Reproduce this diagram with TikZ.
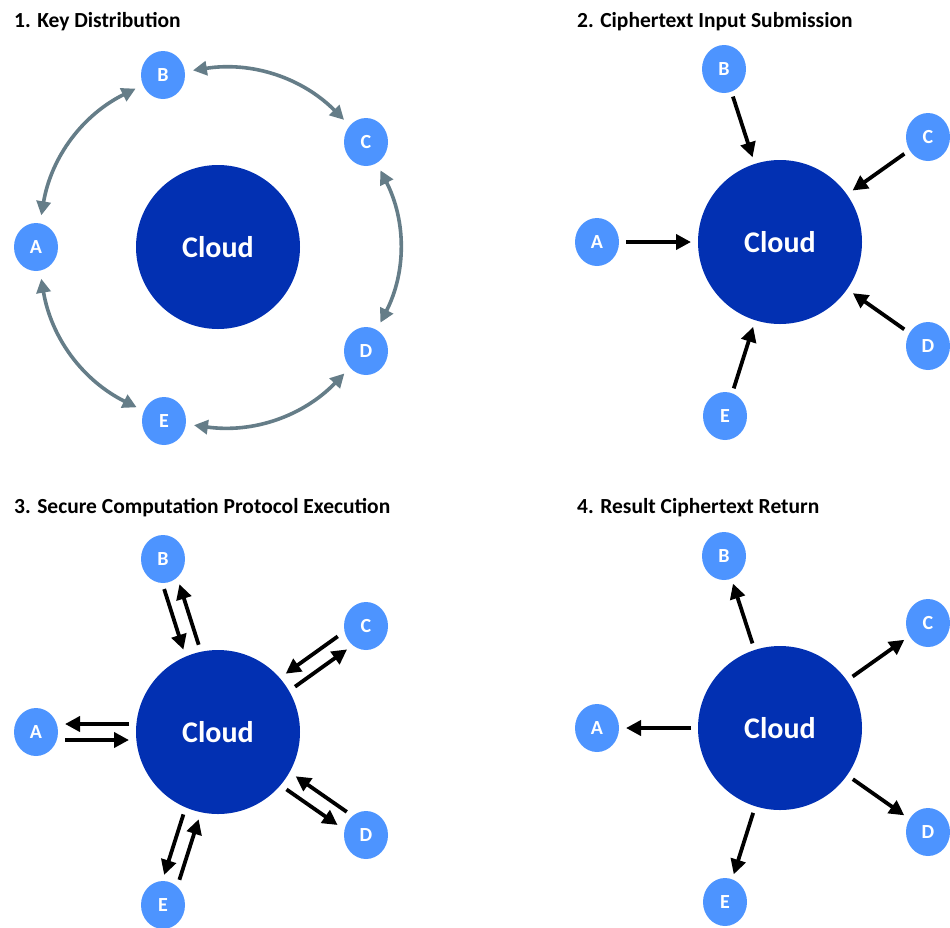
\documentclass[tikz,border=0pt]{standalone}
\usepackage{fontspec}
\setmainfont{Carlito}
\usepackage{tikz}
\usetikzlibrary{calc}
\usetikzlibrary{arrows.meta}
\usetikzlibrary{shapes.geometric}
\definecolor{cloudblue}{RGB}{2, 48, 178}
\definecolor{partyblue}{RGB}{77, 148, 255}
\definecolor{keygray}{RGB}{101, 125, 136}
\tikzstyle{cloud} = [circle, fill = cloudblue, draw = none, minimum size = 164pt, inner sep = 0, text = white, font = \fontsize{30}{32}\selectfont\bfseries]
\tikzstyle{party} = [ellipse, fill = partyblue, draw = none, minimum width = 44pt, minimum height = 48pt, inner sep = 0, text = white, font = \fontsize{20}{22}\selectfont\bfseries]
\tikzstyle{title} = [anchor = base west, inner sep = 0, font = \fontsize{21.5}{25}\selectfont\bfseries]
\tikzstyle{keyarc} = [{Triangle[length = 14pt, width = 14pt]}-{Triangle[length = 14pt, width = 14pt]}, draw = keygray, line width = 3.6pt, shorten < = 8pt, shorten > = 8pt]
\tikzstyle{flow} = [-{Triangle[length = 15pt, width = 15pt]}, draw = black, line width = 3.8pt]
\tikzstyle{tocloud} = [flow, shorten < = 29pt, shorten > = 89pt]
\tikzstyle{fromcloud} = [flow, shorten < = 89pt, shorten > = 29pt]

\begin{document}
\begin{tikzpicture}[x = 1pt, y = 1pt]
\useasboundingbox (0, 0) rectangle (950, -927);

% 1. key distribution
\node [title] (T1) at (14, -27) {1. Key Distribution};
\node [cloud] (K1) at (218, -247) {Cloud};
\node [party] (A1) at (36, -247) {A};
\node [party] (B1) at (163, -75) {B};
\node [party] (C1) at (366, -142) {C};
\node [party] (D1) at (366, -351) {D};
\node [party] (E1) at (164, -421) {E};
\draw [keyarc] (A1) to [bend left = 27] (B1);
\draw [keyarc] (B1) to [bend left = 27] (C1);
\draw [keyarc] (C1) to [bend left = 27] (D1);
\draw [keyarc] (D1) to [bend left = 27] (E1);
\draw [keyarc] (E1) to [bend left = 27] (A1);

% 2. ciphertext input
\node [title] (T2) at (577, -27) {2. Ciphertext Input Submission};
\node [cloud] (K2) at (780, -242) {Cloud};
\node [party] (A2) at (597, -242) {A};
\node [party] (B2) at (724, -69) {B};
\node [party] (C2) at (928, -137) {C};
\node [party] (D2) at (928, -346) {D};
\node [party] (E2) at (725, -416) {E};
\draw [tocloud] (A2.center) -- (K2.center);
\draw [tocloud] (B2.center) -- (K2.center);
\draw [tocloud] (C2.center) -- (K2.center);
\draw [tocloud] (D2.center) -- (K2.center);
\draw [tocloud] (E2.center) -- (K2.center);

% 3. protocol execution, both ways
\node [title] (T3) at (14, -513) {3. Secure Computation Protocol Execution};
\node [cloud] (K3) at (218, -732) {Cloud};
\node [party] (A3) at (36, -732) {A};
\node [party] (B3) at (163, -559) {B};
\node [party] (C3) at (366, -626) {C};
\node [party] (D3) at (366, -835) {D};
\node [party] (E3) at (163, -905) {E};
\draw [tocloud] ($(A3)!8pt!-90:(K3)$) -- ($(K3)!8pt!90:(A3)$);
\draw [fromcloud] ($(K3)!8pt!-90:(A3)$) -- ($(A3)!8pt!90:(K3)$);
\draw [tocloud] ($(B3)!8pt!-90:(K3)$) -- ($(K3)!8pt!90:(B3)$);
\draw [fromcloud] ($(K3)!8pt!-90:(B3)$) -- ($(B3)!8pt!90:(K3)$);
\draw [tocloud] ($(C3)!8pt!-90:(K3)$) -- ($(K3)!8pt!90:(C3)$);
\draw [fromcloud] ($(K3)!8pt!-90:(C3)$) -- ($(C3)!8pt!90:(K3)$);
\draw [tocloud] ($(D3)!8pt!-90:(K3)$) -- ($(K3)!8pt!90:(D3)$);
\draw [fromcloud] ($(K3)!8pt!-90:(D3)$) -- ($(D3)!8pt!90:(K3)$);
\draw [tocloud] ($(E3)!8pt!-90:(K3)$) -- ($(K3)!8pt!90:(E3)$);
\draw [fromcloud] ($(K3)!8pt!-90:(E3)$) -- ($(E3)!8pt!90:(K3)$);

% 4. result return
\node [title] (T4) at (577, -513) {4. Result Ciphertext Return};
\node [cloud] (K4) at (780, -728) {Cloud};
\node [party] (A4) at (597, -728) {A};
\node [party] (B4) at (724, -556) {B};
\node [party] (C4) at (928, -623) {C};
\node [party] (D4) at (928, -832) {D};
\node [party] (E4) at (725, -902) {E};
\draw [fromcloud] (K4.center) -- (A4.center);
\draw [fromcloud] (K4.center) -- (B4.center);
\draw [fromcloud] (K4.center) -- (C4.center);
\draw [fromcloud] (K4.center) -- (D4.center);
\draw [fromcloud] (K4.center) -- (E4.center);
\end{tikzpicture}
\end{document}
